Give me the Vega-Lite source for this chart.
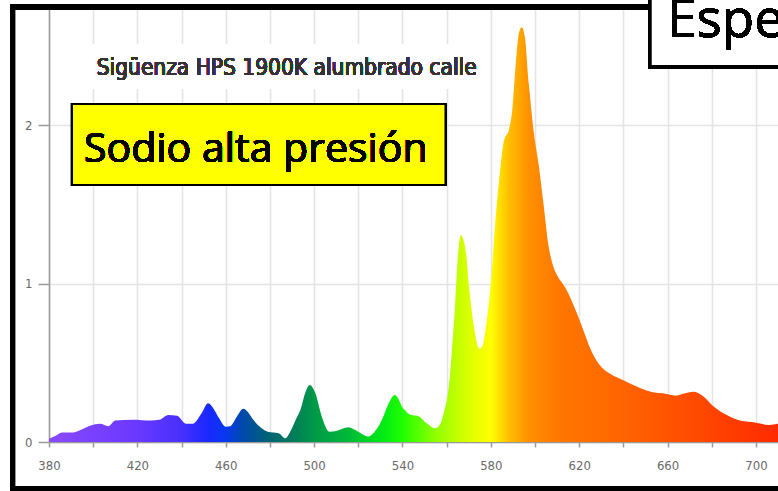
{
  "$schema": "https://vega.github.io/schema/vega-lite/v6.json",
  "width": 729,
  "height": 436,
  "autosize": {"type": "none"},
  "padding": {"left": 49, "top": 6, "right": 0, "bottom": 49},
  "background": "white",
  "config": {"view": {"stroke": null}},
  "data": {
    "values": [
      {"wl": 380, "v": 0.02}, {"wl": 383, "v": 0.04}, {"wl": 386, "v": 0.06}, {"wl": 391, "v": 0.06},
      {"wl": 395, "v": 0.08}, {"wl": 398, "v": 0.1}, {"wl": 403, "v": 0.115}, {"wl": 407, "v": 0.1},
      {"wl": 410, "v": 0.135}, {"wl": 418, "v": 0.14}, {"wl": 426, "v": 0.135}, {"wl": 430, "v": 0.14},
      {"wl": 434, "v": 0.17}, {"wl": 438, "v": 0.165}, {"wl": 442, "v": 0.115}, {"wl": 445, "v": 0.115},
      {"wl": 449, "v": 0.18}, {"wl": 452, "v": 0.245}, {"wl": 454.5, "v": 0.21}, {"wl": 457, "v": 0.15},
      {"wl": 460, "v": 0.097}, {"wl": 462, "v": 0.1}, {"wl": 465, "v": 0.16}, {"wl": 468, "v": 0.21},
      {"wl": 470, "v": 0.19}, {"wl": 472.5, "v": 0.14}, {"wl": 476, "v": 0.09}, {"wl": 479, "v": 0.065},
      {"wl": 484, "v": 0.055}, {"wl": 487, "v": 0.023}, {"wl": 489, "v": 0.06}, {"wl": 492, "v": 0.15},
      {"wl": 494, "v": 0.21}, {"wl": 496, "v": 0.31}, {"wl": 498, "v": 0.36}, {"wl": 500.5, "v": 0.31},
      {"wl": 503.5, "v": 0.16}, {"wl": 507, "v": 0.065}, {"wl": 510, "v": 0.07}, {"wl": 515.5, "v": 0.093},
      {"wl": 520, "v": 0.065}, {"wl": 524.5, "v": 0.034}, {"wl": 528, "v": 0.075}, {"wl": 531, "v": 0.15},
      {"wl": 533, "v": 0.22}, {"wl": 536.6, "v": 0.297}, {"wl": 540.4, "v": 0.212}, {"wl": 544, "v": 0.17},
      {"wl": 547, "v": 0.164}, {"wl": 551, "v": 0.118}, {"wl": 554.7, "v": 0.086}, {"wl": 557, "v": 0.11},
      {"wl": 559, "v": 0.2}, {"wl": 560.5, "v": 0.3}, {"wl": 561.5, "v": 0.42}, {"wl": 562.5, "v": 0.6},
      {"wl": 563.5, "v": 0.79}, {"wl": 565, "v": 1.15}, {"wl": 566.5, "v": 1.306}, {"wl": 567.5, "v": 1.28},
      {"wl": 568.8, "v": 1.19}, {"wl": 570.3, "v": 0.96}, {"wl": 572.6, "v": 0.707}, {"wl": 574.8, "v": 0.59},
      {"wl": 576, "v": 0.6}, {"wl": 577.8, "v": 0.727}, {"wl": 580, "v": 1.0}, {"wl": 582.2, "v": 1.42},
      {"wl": 584.4, "v": 1.74}, {"wl": 586, "v": 1.905}, {"wl": 588.2, "v": 1.97}, {"wl": 589.7, "v": 2.095},
      {"wl": 591.2, "v": 2.37}, {"wl": 592.7, "v": 2.58}, {"wl": 594, "v": 2.616}, {"wl": 595.4, "v": 2.557},
      {"wl": 597.2, "v": 2.26}, {"wl": 599.5, "v": 1.95}, {"wl": 601.8, "v": 1.737}, {"wl": 604, "v": 1.485},
      {"wl": 606, "v": 1.25}, {"wl": 608, "v": 1.12}, {"wl": 610.5, "v": 1.04}, {"wl": 613, "v": 0.99},
      {"wl": 616, "v": 0.91}, {"wl": 619, "v": 0.81}, {"wl": 622, "v": 0.7}, {"wl": 625, "v": 0.59},
      {"wl": 629, "v": 0.49}, {"wl": 634, "v": 0.43}, {"wl": 640, "v": 0.39}, {"wl": 646, "v": 0.35},
      {"wl": 652, "v": 0.318}, {"wl": 659.6, "v": 0.303}, {"wl": 664, "v": 0.293}, {"wl": 668, "v": 0.307},
      {"wl": 671.7, "v": 0.317}, {"wl": 676, "v": 0.29}, {"wl": 680.7, "v": 0.225}, {"wl": 686.8, "v": 0.17},
      {"wl": 692.8, "v": 0.135}, {"wl": 700, "v": 0.122}, {"wl": 706, "v": 0.108}, {"wl": 710, "v": 0.115}
    ]
  },
  "encoding": {
    "x": {
      "field": "wl", "type": "quantitative",
      "scale": {"domain": [380, 710], "nice": false, "zero": false},
      "axis": {
        "title": null,
        "values": [380, 400, 420, 440, 460, 480, 500, 520, 540, 560, 580, 600, 620, 640, 660, 680, 700],
        "labelExpr": "datum.value % 40 == 20 ? datum.label : ''",
        "grid": true, "gridColor": "#e4e4e4", "gridWidth": 1.6,
        "domainColor": "#9a9a9a", "domainWidth": 1.5,
        "tickColor": "#9a9a9a", "tickSize": 5, "tickWidth": 1.5,
        "labelFont": "'DejaVu Sans Condensed', 'Liberation Sans', Roboto, sans-serif", "labelFontSize": 13, "labelColor": "#6a6a6a",
        "labelPadding": 12, "labelFlush": false
      }
    },
    "y": {
      "field": "v", "type": "quantitative",
      "scale": {"domain": [0, 2.7508], "nice": false},
      "axis": {
        "title": null,
        "values": [0, 1, 2],
        "grid": true, "gridColor": "#e4e4e4", "gridWidth": 1.6,
        "domainColor": "#9a9a9a", "domainWidth": 1.5,
        "tickColor": "#9a9a9a", "tickSize": 11, "tickWidth": 1.5,
        "labelFont": "'DejaVu Sans Condensed', 'Liberation Sans', Roboto, sans-serif", "labelFontSize": 13, "labelColor": "#6a6a6a",
        "labelPadding": 6
      }
    }
  },
  "layer": [
    {
      "mark": {"type": "rect", "fill": "white", "stroke": null},
      "encoding": {
        "x": {"datum": 381.8, "type": "quantitative"},
        "x2": {"datum": 576.9},
        "y": {"datum": 2.511, "type": "quantitative"},
        "y2": {"datum": 2.227}
      }
    },
    {
      "mark": {
        "type": "area",
        "interpolate": "monotone",
        "fill": {
          "gradient": "linear", "x1": 0, "y1": 0, "x2": 1, "y2": 0,
          "stops": [
            {"offset": 0.0, "color": "#8a4bff"},
            {"offset": 0.0606, "color": "#7a40ff"},
            {"offset": 0.121, "color": "#6a38ff"},
            {"offset": 0.182, "color": "#4830ff"},
            {"offset": 0.218, "color": "#1a28ff"},
            {"offset": 0.242, "color": "#0838f0"},
            {"offset": 0.267, "color": "#004aa8"},
            {"offset": 0.297, "color": "#00607a"},
            {"offset": 0.333, "color": "#007a5a"},
            {"offset": 0.364, "color": "#009a48"},
            {"offset": 0.409, "color": "#00b838"},
            {"offset": 0.455, "color": "#00e818"},
            {"offset": 0.485, "color": "#20ff00"},
            {"offset": 0.53, "color": "#90ff00"},
            {"offset": 0.576, "color": "#dcff00"},
            {"offset": 0.606, "color": "#ffff00"},
            {"offset": 0.63, "color": "#ffc000"},
            {"offset": 0.658, "color": "#ff9000"},
            {"offset": 0.697, "color": "#ff7800"},
            {"offset": 0.788, "color": "#ff6400"},
            {"offset": 0.879, "color": "#ff4c00"},
            {"offset": 0.97, "color": "#ff3300"},
            {"offset": 1.0, "color": "#ff2a00"}
          ]
        }
      }
    },
    {
      "mark": {"type": "rect", "fill": null, "stroke": "black", "strokeWidth": 5},
      "encoding": {
        "x": {"datum": 363.48, "type": "quantitative"},
        "x2": {"datum": 730},
        "y": {"datum": 2.7445, "type": "quantitative"},
        "y2": {"datum": -0.2965}
      }
    },
    {
      "mark": {"type": "rect", "fill": "#ffff00", "stroke": "black", "strokeWidth": 2},
      "encoding": {
        "x": {"datum": 390.41, "type": "quantitative"},
        "x2": {"datum": 559.48},
        "y": {"datum": 2.1325, "type": "quantitative"},
        "y2": {"datum": 1.6215}
      }
    },
    {
      "mark": {"type": "text", "text": "Sodio alta presión", "font": "'Open Sans', 'Noto Sans', sans-serif", "fontSize": 41, "fontWeight": "normal", "color": "black", "align": "left", "baseline": "alphabetic"},
      "encoding": {
        "x": {"datum": 395.84, "type": "quantitative"},
        "y": {"datum": 1.768, "type": "quantitative"}
      }
    },
    {
      "mark": {"type": "rect", "fill": "white", "stroke": "black", "strokeWidth": 3.5},
      "encoding": {
        "x": {"datum": 652.05, "type": "quantitative"},
        "x2": {"datum": 760},
        "y": {"datum": 3.0, "type": "quantitative"},
        "y2": {"datum": 2.3678}
      }
    },
    {
      "mark": {"type": "text", "text": "Espectro", "font": "'Open Sans', 'Noto Sans', sans-serif", "fontSize": 53, "fontWeight": "normal", "color": "black", "align": "left", "baseline": "alphabetic"},
      "encoding": {
        "x": {"datum": 659.75, "type": "quantitative"},
        "y": {"datum": 2.5552, "type": "quantitative"}
      }
    },
    {
      "mark": {"type": "text", "text": "Sigüenza HPS  1900K  alumbrado calle", "font": "'DejaVu Sans Condensed', 'Liberation Sans', Roboto, sans-serif", "fontSize": 22.5, "color": "#333333", "align": "left", "baseline": "alphabetic"},
      "encoding": {
        "x": {"datum": 401.6, "type": "quantitative"},
        "y": {"datum": 2.3155, "type": "quantitative"}
      }
    }
  ]
}
